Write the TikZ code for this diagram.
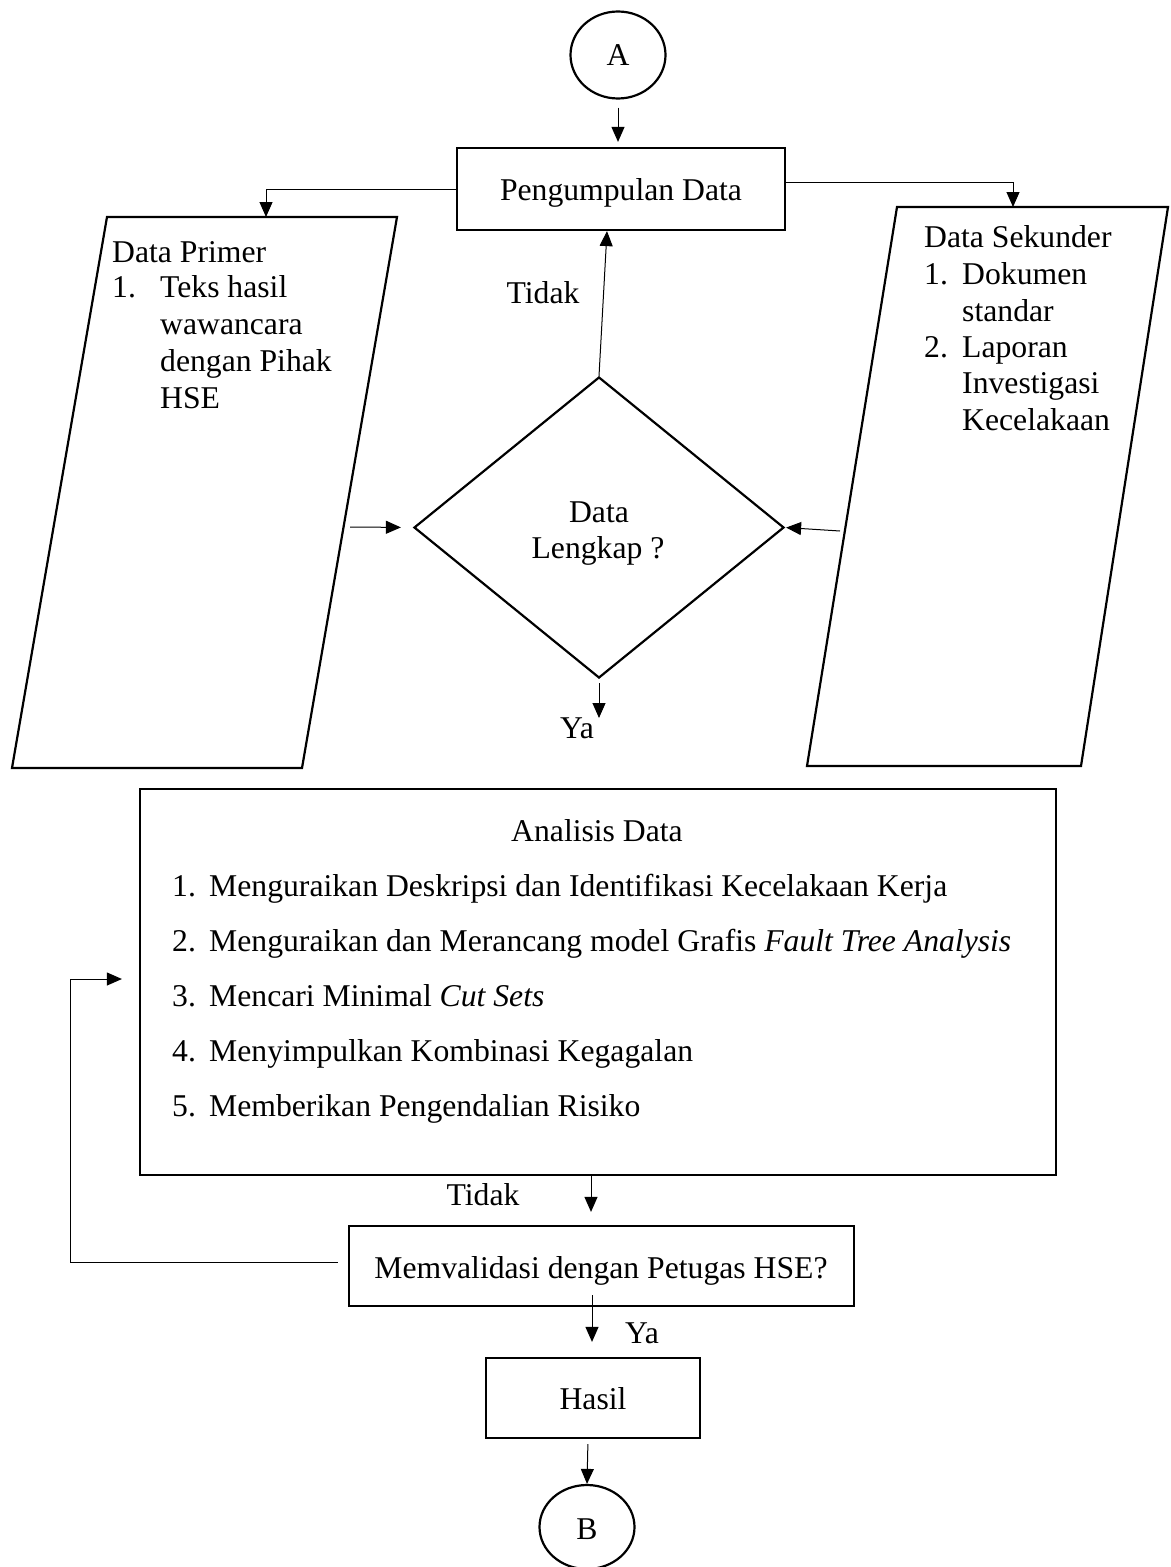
\documentclass[tikz,border=0pt]{standalone}
\usepackage{fontspec}
\setmainfont{Liberation Serif}
\usetikzlibrary{shapes.geometric,arrows.meta}
\newcommand\myfs{\fontsize{31.8}{36.6}\selectfont}
\begin{document}
\begin{tikzpicture}[x=1bp,y=-1bp,
  shp/.style={draw, line width=2.2bp, inner sep=0pt},
  conn/.style={line width=1bp},
  arr/.style={conn, -{Triangle[length=15bp,width=13bp]}},
  txt/.style={inner sep=0pt, anchor=base west, font=\myfs},
  ctxt/.style={inner sep=0pt, anchor=base, font=\myfs}]
\useasboundingbox (0,0) rectangle (1170,1567);

% connectors A and B
\node[shp, ellipse, minimum width=95bp, minimum height=87bp] (A) at (618,55) {};
\node[ctxt] (Atxt) at (618,66) {A};
\node[shp, ellipse, minimum width=95bp, minimum height=84bp] (B) at (587,1527) {};
\node[ctxt] (Btxt) at (587,1539) {B};

% Pengumpulan Data
\node[shp, rectangle, minimum width=328bp, minimum height=82bp] (pd) at (621,189) {};
\node[ctxt] (pdtxt) at (621,200) {Pengumpulan Data};

% left parallelogram
\draw[line width=2.2bp, line join=miter] (107,217) -- (397,217) -- (302,768) -- (12,768) -- cycle;
\coordinate (lpTop) at (266,217);
\coordinate (lpOut) at (350,527);
\node[txt] (lp0) at (112,262) {Data Primer};
\node[txt] (lp1n) at (112,297) {1.};
\node[txt] (lp1) at (160,297) {Teks hasil};
\node[txt] (lp2) at (160,334) {wawancara};
\node[txt] (lp3) at (160,371) {dengan Pihak};
\node[txt] (lp4) at (160,408) {HSE};

% right parallelogram
\draw[line width=2.2bp, line join=miter] (897,207) -- (1168,207) -- (1081,766) -- (807,766) -- cycle;
\coordinate (rpTop) at (1013,207);
\coordinate (rpOut) at (840,531);
\node[txt] (rp0) at (924,247) {Data Sekunder};
\node[txt] (rp1n) at (924,284) {1.};
\node[txt] (rp1) at (962,284) {Dokumen};
\node[txt] (rp2) at (962,321) {standar};
\node[txt] (rp3n) at (924,357) {2.};
\node[txt] (rp3) at (962,357) {Laporan};
\node[txt] (rp4) at (962,393) {Investigasi};
\node[txt] (rp5) at (962,430) {Kecelakaan};

% decision
\node[shp, diamond, minimum width=370bp, minimum height=301bp] (dia) at (599,527.5) {};
\node[ctxt] (dia1) at (599,522) {Data};
\node[ctxt] (dia2) at (598,558) {Lengkap ?};
\coordinate (yaEnd) at (599,718);
\node[ctxt] (ya1) at (577,738) {Ya};
\node[ctxt] (tidak1) at (543,303) {Tidak};

% Analisis Data
\node[shp, rectangle, minimum width=916bp, minimum height=386bp] (ana) at (598,982) {};
\node[ctxt] (anat) at (597,841) {Analisis Data};
\node[txt] (an1n) at (172,896) {1.};
\node[txt] (an1) at (209,896) {Menguraikan Deskripsi dan Identifikasi Kecelakaan Kerja};
\node[txt] (an2n) at (172,951) {2.};
\node[txt] (an2) at (209,951) {Menguraikan dan Merancang model Grafis \textit{Fault Tree Analysis}};
\node[txt] (an3n) at (172,1006) {3.};
\node[txt] (an3) at (209,1006) {Mencari Minimal \textit{Cut Sets}};
\node[txt] (an4n) at (172,1061) {4.};
\node[txt] (an4) at (209,1061) {Menyimpulkan Kombinasi Kegagalan};
\node[txt] (an5n) at (172,1116) {5.};
\node[txt] (an5) at (209,1116) {Memberikan Pengendalian Risiko};

% validation
\node[shp, rectangle, minimum width=505bp, minimum height=80bp] (val) at (601.5,1266) {};
\node[ctxt] (valt) at (601,1278) {Memvalidasi dengan Petugas HSE?};
\node[ctxt] (tidak2) at (483,1205) {Tidak};
\node[ctxt] (ya2) at (642,1343) {Ya};

% result
\node[shp, rectangle, minimum width=214bp, minimum height=80bp] (has) at (593,1398) {};
\node[ctxt] (hast) at (593,1409) {Hasil};

% arrows
\draw[arr, shorten <=8bp, shorten >=5bp] (A.south) -- (A.south |- pd.north);
\draw[arr] (pd.west) -| (lpTop);
\draw[arr] ([yshift=7bp]pd.east) -| (rpTop);
\draw[arr] (dia.north) -- ([xshift=-14bp]pd.south);
\draw[arr, shorten >=12bp] (lpOut) -- (dia.west);
\draw[arr, shorten >=1bp] (rpOut) -- (dia.east);
\draw[arr, shorten <=4bp] (dia.south) -- (yaEnd);
\draw[arr, shorten >=13bp] ([xshift=-7bp]ana.south) -- ([xshift=-7bp]ana.south |- val.north);
\draw[arr, shorten >=17bp] ([xshift=-10bp,yshift=4bp]val.west) -| ([xshift=-68bp,yshift=3bp]ana.west) -- ([yshift=3bp]ana.west);
\draw[arr, shorten >=15bp] ([xshift=-9.5bp,yshift=12bp]val.south) -- ([xshift=-9.5bp]val.south |- has.north);
\draw[arr, shorten <=5bp] ([xshift=-5bp]has.south) -- (B.north);
\end{tikzpicture}
\end{document}
